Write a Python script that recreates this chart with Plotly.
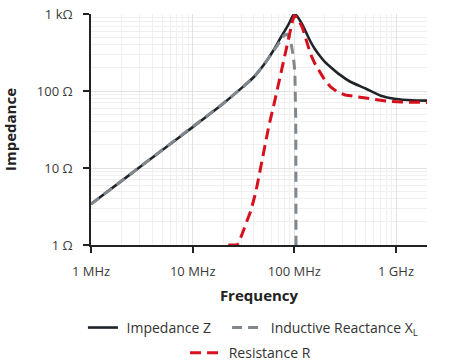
import plotly.graph_objects as go

# Frequencies in MHz, values in Ohm
freq_z = [1, 2, 5, 10, 20, 31.6, 39.8, 50.1, 63.1, 72.4, 81.3, 91.2, 96, 100, 104,
          109.6, 120.2, 131.8, 144.5, 158.5, 177.8, 199.5, 223.9, 281.8, 354.8, 501,
          708, 1000, 1413, 2018]
impedance_z = [3.4, 6.8, 17, 34, 69, 115, 151, 219, 347, 479, 617, 813, 940, 1000, 965,
               891, 724, 562, 437, 355, 288, 240, 209, 162, 132, 108,
               87, 79, 76, 75]

freq_xl = [1, 2, 5, 10, 20, 31.6, 39.8, 50.1, 63.1, 72.4, 79.4, 85.1, 91.2, 97.7,
           101.2, 103.3, 103.8]
reactance_xl = [3.4, 6.8, 17, 34, 69, 115, 151, 219, 339, 457, 530, 545, 479, 282,
                178, 40, 1]

freq_r = [22.4, 27.5, 30.2, 33.1, 37.2, 41.7, 45.7, 50.1, 56.2, 63.1, 72.4, 81.3,
          91.2, 96, 100, 104, 109.6, 120.2, 131.8, 144.5, 158.5, 177.8, 199.5, 229, 263,
          316, 398, 562, 794, 1122, 1585, 2018]
resistance_r = [1, 1, 1.32, 1.86, 2.75, 4.8, 8.9, 15.8, 35.5, 67.6, 148, 316,
                603, 820, 955, 920, 851, 661, 447, 302, 229, 174, 138, 112, 98,
                89, 85, 78, 74, 72, 71, 71]

x_tickvals = [1, 10, 100, 1000]
x_ticktext = ["1 MHz", "10 MHz", "100 MHz", "1 GHz"]
y_tickvals = [1, 10, 100, 1000]
y_ticktext = ["1 Ω", "10 Ω", "100 Ω", "1 kΩ"]

FONT = "Open Sans"

fig = go.Figure()
fig.add_trace(go.Scatter(x=freq_z, y=impedance_z, mode="lines", name=" Impedance Z",
                         line=dict(color="#1f2429", width=2.6, shape="spline", smoothing=0.5),
                         legend="legend"))
fig.add_trace(go.Scatter(x=freq_xl, y=reactance_xl, mode="lines",
                         name=" Inductive Reactance X<sub>L</sub>",
                         line=dict(color="#80878d", width=3, dash="10px,6px"),
                         legend="legend2"))
fig.add_trace(go.Scatter(x=freq_r, y=resistance_r, mode="lines", name=" Resistance R",
                         line=dict(color="#d6101c", width=3, dash="11px,6px"),
                         legend="legend3"))

axis_common = dict(
    type="log",
    showline=True, linecolor="#222", linewidth=1.5,
    ticks="outside", ticklen=6, tickwidth=1.5, tickcolor="#222",
    showgrid=True, gridcolor="#e2e2e2", gridwidth=1,
    minor=dict(dtick="D1", showgrid=True, gridcolor="#f0f0f0", gridwidth=1, ticks=""),
    tickfont=dict(family=FONT, size=13, color="#3a3a3a"),
    zeroline=False, mirror=False,
    ticklabelstandoff=8,
    ticklabeloverflow="allow",
)

fig.update_xaxes(**axis_common, range=[-0.0005, 3.305], tickvals=x_tickvals, ticktext=x_ticktext,
                 title=dict(text="<b>Frequency</b>", font=dict(family=FONT, size=15, color="#222"),
                            standoff=11))
fig.update_yaxes(**axis_common, range=[-0.0005, 3.001], tickvals=y_tickvals, ticktext=y_ticktext,
                 title=dict(text="<b>Impedance</b>", font=dict(family=FONT, size=15, color="#222"),
                            standoff=17))

leg_font = dict(family=FONT, size=14, color="#333")
leg_common = dict(orientation="h", xanchor="left", yanchor="middle", font=leg_font,
                  itemwidth=30, bgcolor="rgba(0,0,0,0)", borderwidth=0)

fig.update_layout(
    width=456, height=363,
    margin=dict(l=91, r=29, t=14, b=118, autoexpand=False),
    paper_bgcolor="white", plot_bgcolor="white",
    font=dict(family=FONT, size=13, color="#333"),
    showlegend=True,
    legend=dict(**leg_common, x=-0.024, y=-0.359),
    legend2=dict(**leg_common, x=0.405, y=-0.359),
    legend3=dict(**leg_common, x=0.280, y=-0.468),
    hovermode=False,
)

fig.write_html("out.html", config={"displayModeBar": False},
               post_script="document.body.style.margin='0';document.body.style.overflow='hidden';")
